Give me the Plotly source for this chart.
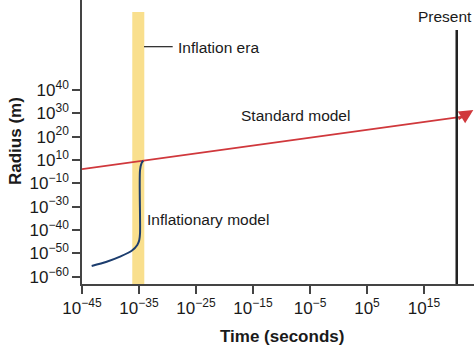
import plotly.graph_objects as go

# ---- data (schematic axes: x = log10 time, y = label slot index) ----
x_tick_exponents = [-45, -35, -25, -15, -5, 5, 15]
y_tick_exponents = [-60, -50, -40, -30, -10, 10, 20, 30, 40]
y_tick_slots = list(range(len(y_tick_exponents)))

standard_x = [-45.0, 21.8]
standard_y = [4.61, 6.86]
arrow_tip = (23.65, 7.14)

inflation_x = [-43.30, -40.67, -38.33, -36.28, -35.30, -34.95, -34.82, -34.82, -34.53, -34.25]
inflation_y = [0.46, 0.64, 0.86, 1.11, 1.36, 1.57, 1.86, 4.57, 4.88, 4.97]

inflation_era = (-36.18, -34.07)
present_x = 20.74

X_RANGE = [-45, 23.77]
Y_RANGE = [-0.313, 11.855]

def sup(e):
    s = str(e).replace("-", "\u2212")
    return f"10<sup><span style='font-size:12px'>{s}</span></sup>"

FONT = "Liberation Sans, Arial, sans-serif"

fig = go.Figure()

fig.add_trace(go.Scatter(x=standard_x, y=standard_y, mode="lines",
                         line=dict(color="#d0383c", width=1.8), hoverinfo="skip"))
fig.add_trace(go.Scatter(x=inflation_x, y=inflation_y, mode="lines",
                         line=dict(color="#1c3d6e", width=2, shape="spline", smoothing=0.8),
                         hoverinfo="skip"))

# inflation era band
fig.add_shape(type="rect", layer="below", x0=inflation_era[0], x1=inflation_era[1],
              y0=Y_RANGE[0], y1=11.34, fillcolor="#f9df8d", line=dict(width=0))
# leader line
fig.add_shape(type="line", x0=-34.12, x1=-29.09, y0=9.855, y1=9.855,
              line=dict(color="#222", width=1.2))
# present line
fig.add_shape(type="line", x0=present_x, x1=present_x, y0=Y_RANGE[0], y1=10.57,
              line=dict(color="#222", width=2.5))

# arrow head
slope = (arrow_tip[1] - standard_y[1]) / (arrow_tip[0] - standard_x[1])
fig.add_annotation(x=arrow_tip[0], y=arrow_tip[1], ax=standard_x[1] - 1.0,
                   ay=standard_y[1] - slope * 1.0,
                   axref="x", ayref="y", xref="x", yref="y", text="",
                   showarrow=True, arrowhead=2, arrowsize=1.55, arrowwidth=1.8,
                   arrowcolor="#d0383c")

txt = dict(family=FONT, size=15.5, color="#1a1a1a")
fig.add_annotation(x=-28.51, y=9.84, text="Inflation era", showarrow=False,
                   xanchor="left", yanchor="middle", font=txt)
fig.add_annotation(x=-33.95, y=2.43, text="Inflationary model", showarrow=False,
                   xanchor="left", yanchor="middle", font=txt)
fig.add_annotation(x=-7.54, y=6.91, text="Standard model", showarrow=False,
                   xanchor="center", yanchor="middle", font=txt)
fig.add_annotation(x=18.6, y=11.13, text="Present", showarrow=False,
                   xanchor="center", yanchor="middle", font=txt)

title_font = dict(family=FONT, size=17, color="#1a1a1a")
fig.add_annotation(xref="paper", yref="paper", x=0, y=(284 - 141) / 284, xshift=-67,
                   text="<b>Radius (m)</b>", textangle=-90, showarrow=False,
                   xanchor="center", yanchor="middle", font=title_font)
fig.add_annotation(xref="paper", yref="paper", x=(282 - 82) / 392, y=0, yshift=-52.7,
                   text="<b>Time (seconds)</b>", showarrow=False,
                   xanchor="center", yanchor="middle", font=title_font)

axis_common = dict(showgrid=False, zeroline=False, showline=True, linecolor="#444",
                   linewidth=1.5, ticks="outside", ticklen=8, tickwidth=1.5,
                   tickcolor="#444", tickfont=dict(family=FONT, size=17, color="#1a1a1a"))

fig.update_xaxes(range=X_RANGE, tickmode="array", tickvals=x_tick_exponents,
                 ticktext=[sup(e) for e in x_tick_exponents], **axis_common)
fig.update_yaxes(range=Y_RANGE, tickmode="array", tickvals=y_tick_slots,
                 ticktext=[sup(e) for e in y_tick_exponents], **axis_common)

fig.update_layout(width=474, height=349, margin=dict(l=82, r=0, t=0, b=65),
                  plot_bgcolor="white", paper_bgcolor="white", showlegend=False)

fig.write_html("out.html")
